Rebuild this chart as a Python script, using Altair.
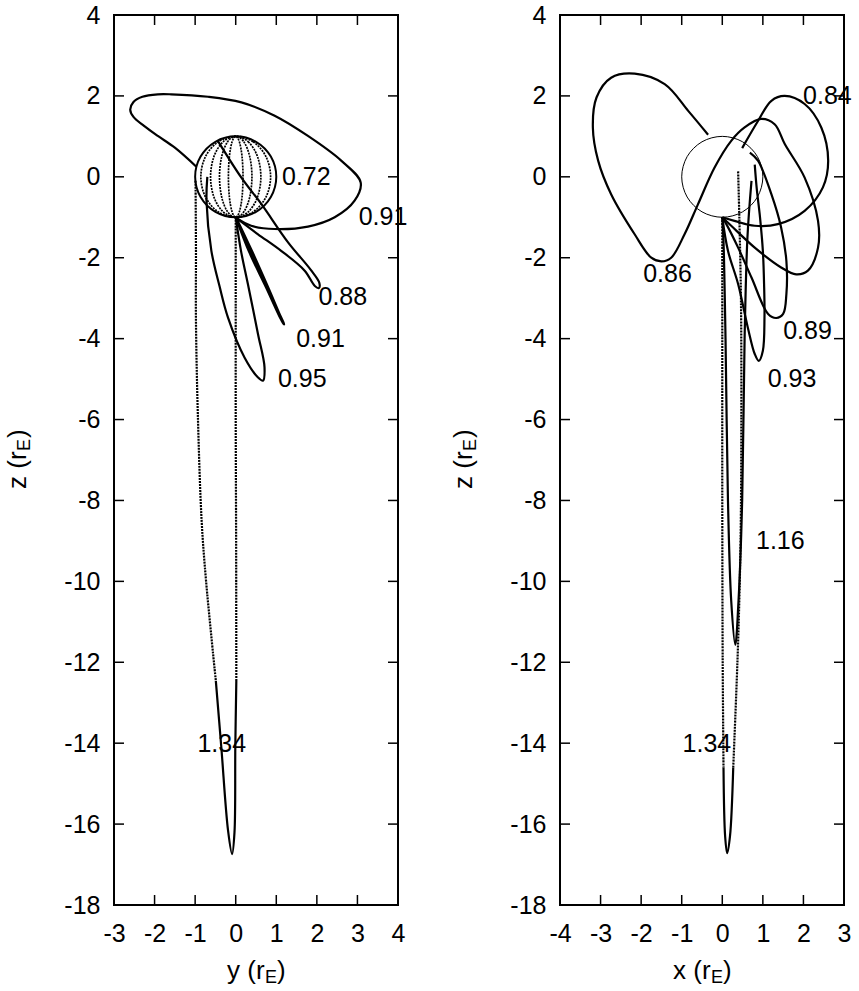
import altair as alt
import pandas as pd

FONT = "Liberation Sans"
W, H = 284, 890                      # plot area of each panel, px
Z_DOMAIN = [-18, 4]
Z_TICKS = list(range(-18, 5, 2))

# ---------------- left panel: projection on the (y, z) plane ----------------
LEFT_X_DOMAIN = [-3, 4]
LEFT_X_TICKS = list(range(-3, 5))

# Earth outline and the 0.72 traces that stay on the sphere (closed curves)
left_earth = [(0.0, 1.0), (0.5, 0.866), (0.866, 0.5), (1.0, 0.0), (0.866, -0.5), (0.5, -0.866),
              (0.0, -1.0), (-0.5, -0.866), (-0.866, -0.5), (-1.0, 0.0), (-0.866, 0.5), (-0.5, 0.866)]
meridian_a = [(0.0, 1.0), (0.43, 0.866), (0.745, 0.5), (0.86, 0.0), (0.745, -0.5), (0.43, -0.866),
              (0.0, -1.0), (-0.43, -0.866), (-0.745, -0.5), (-0.86, 0.0), (-0.745, 0.5), (-0.43, 0.866)]
meridian_b = [(0.0, 1.0), (0.31, 0.866), (0.537, 0.5), (0.62, 0.0), (0.537, -0.5), (0.31, -0.866),
              (0.0, -1.0), (-0.31, -0.866), (-0.537, -0.5), (-0.62, 0.0), (-0.537, 0.5), (-0.31, 0.866)]
meridian_c = [(0.0, 1.0), (0.20, 0.866), (0.346, 0.5), (0.40, 0.0), (0.346, -0.5), (0.20, -0.866),
              (0.0, -1.0), (-0.20, -0.866), (-0.346, -0.5), (-0.40, 0.0), (-0.346, 0.5), (-0.20, 0.866)]
meridian_d = [(0.0, 1.0), (0.09, 0.866), (0.156, 0.5), (0.18, 0.0), (0.156, -0.5), (0.09, -0.866),
              (0.0, -1.0), (-0.09, -0.866), (-0.156, -0.5), (-0.18, 0.0), (-0.156, 0.5), (-0.09, 0.866)]

# open trajectories (y, z)
left_091_wide = [(0.0, -1.0), (0.06, -1.05), (0.38, -1.21), (0.96, -1.29), (1.78, -1.23), (2.44, -1.0),
                 (2.93, -0.59), (3.08, -0.14), (2.60, 0.40), (1.78, 1.01), (0.96, 1.51), (0.14, 1.84),
                 (-0.68, 1.98), (-1.59, 2.04), (-1.92, 2.04), (-2.30, 1.98), (-2.52, 1.85),
                 (-2.60, 1.66), (-2.52, 1.48), (-2.26, 1.26), (-1.92, 1.01), (-1.50, 0.72),
                 (-0.97, 0.25)]
left_088 = [(-0.44, 0.89), (0.14, -0.02), (0.63, -0.67), (1.29, -1.62), (1.85, -2.30), (2.06, -2.62),
            (2.05, -2.75), (1.95, -2.70), (1.70, -2.32), (1.12, -1.83), (0.55, -1.42), (0.15, -1.12),
            (0.0, -1.0)]
left_091_narrow = [(0.0, -1.0), (0.40, -1.85), (0.80, -2.75), (1.10, -3.45), (1.19, -3.64), (1.12, -3.52),
                   (0.75, -2.72), (0.34, -1.86), (0.03, -1.06)]
left_095 = [(-0.70, 0.0), (-0.72, -0.6), (-0.60, -1.83), (-0.40, -2.70), (-0.19, -3.48), (0.22, -4.47),
            (0.55, -4.96), (0.67, -5.04), (0.71, -4.71), (0.55, -3.89), (0.30, -2.65), (0.13, -1.83),
            (0.0, -1.0)]
left_134_down = [(-0.99, -0.1), (-0.98, -1.8), (-0.98, -3.56), (-0.93, -6.0), (-0.84, -8.5),
                 (-0.73, -10.0), (-0.49, -12.46)]
left_134_tip = [(-0.49, -12.46), (-0.355, -14.1), (-0.19, -16.15), (-0.09, -16.74), (-0.03, -16.2),
                (-0.01, -14.1), (0.015, -12.46)]
left_134_up = [(0.015, -12.46), (0.01, -9.0), (0.0, -6.0), (0.0, -3.0), (0.0, -1.0)]

left_label_text = ["0.72", "0.91", "0.88", "0.91", "0.95", "1.34"]
left_label_y = [1.74, 3.63, 2.64, 2.09, 1.64, -0.345]
left_label_z = [0.0, -1.0, -2.98, -4.01, -5.0, -14.02]

# ---------------- right panel: projection on the (x, z) plane ----------------
RIGHT_X_DOMAIN = [-4, 3]
RIGHT_X_TICKS = list(range(-4, 4))

right_earth = [(0.0, 1.0), (0.5, 0.866), (0.866, 0.5), (1.0, 0.0), (0.866, -0.5), (0.5, -0.866),
               (0.0, -1.0), (-0.5, -0.866), (-0.866, -0.5), (-1.0, 0.0), (-0.866, 0.5), (-0.5, 0.866)]

right_086 = [(-0.35, 1.04), (-0.84, 1.63), (-1.42, 2.29), (-2.16, 2.55), (-2.74, 2.45), (-3.10, 1.96),
             (-3.19, 1.22), (-3.06, 0.40), (-2.74, -0.43), (-2.16, -1.42), (-1.75, -2.0), (-1.50, -2.09),
             (-1.26, -2.0), (-0.93, -1.42), (-0.60, -0.68), (-0.19, 0.23), (0.22, 0.89), (0.55, 1.22),
             (0.96, 1.43), (1.29, 1.30), (1.54, 0.81), (2.03, -0.02), (2.36, -1.09), (2.36, -1.75),
             (2.11, -2.32), (1.82, -2.41), (1.45, -2.24), (0.80, -1.75), (0.22, -1.21), (0.0, -1.0)]
right_084 = [(0.49, 0.71), (0.88, 1.38), (1.21, 1.88), (1.54, 2.0), (2.03, 1.80), (2.44, 1.22),
             (2.61, 0.40), (2.48, -0.26), (2.03, -0.84), (1.37, -1.17), (0.80, -1.21), (0.30, -1.09),
             (0.0, -1.0)]
right_089 = [(0.68, 0.60), (0.88, 0.40), (1.21, -0.43), (1.45, -1.25), (1.58, -2.08), (1.58, -2.90),
             (1.50, -3.39), (1.33, -3.49), (1.13, -3.39), (0.72, -2.49), (0.39, -1.75), (0.10, -1.17),
             (0.0, -1.0)]
right_093 = [(0.80, 0.30), (0.85, -0.30), (0.93, -1.0), (1.0, -1.83), (1.03, -2.65), (1.04, -3.48),
             (1.0, -4.30), (0.90, -4.55), (0.80, -4.38), (0.63, -3.73), (0.39, -2.65), (0.14, -1.83),
             (0.0, -1.0)]
right_116 = [(0.72, -0.10), (0.62, -1.5), (0.55, -4.0), (0.49, -8.0), (0.40, -10.48), (0.32, -11.57),
             (0.22, -10.48), (0.14, -8.0), (0.08, -4.0), (0.03, -1.6), (0.0, -1.0)]
right_134_down = [(0.0, -1.0), (0.0, -4.0), (0.0, -8.0), (0.01, -12.0), (0.03, -14.6)]
right_134_tip = [(0.03, -14.6), (0.07, -16.3), (0.12, -16.72), (0.19, -16.3), (0.27, -14.6)]
right_134_up = [(0.27, -14.6), (0.39, -11.5), (0.45, -9.0), (0.47, -6.0), (0.46, -3.0), (0.42, -1.0),
                (0.39, 0.15)]

right_label_text = ["0.84", "0.86", "0.89", "0.93", "1.16", "1.34"]
right_label_x = [2.59, -1.35, 2.10, 1.72, 1.43, -0.38]
right_label_z = [2.0, -2.4, -3.82, -5.0, -9.0, -14.02]


def traces(named):
    rows = []
    for name, pts in named:
        for i, (h, z) in enumerate(pts):
            rows.append({"curve": name, "i": i, "h": h, "z": z})
    return pd.DataFrame(rows)


def panel(xdom, xticks, closed_styles, open_styles, labels, xletter):
    xscale = alt.Scale(domain=xdom, nice=False, zero=False)
    zscale = alt.Scale(domain=Z_DOMAIN, nice=False, zero=False)
    common = dict(title=None, grid=False, domain=False, ticks=False, tickSize=0,
                  labelFont=FONT, labelFontSize=25, labelColor="black",
                  labelOverlap=False, labelFlush=False, labelExpr="'' + datum.value")
    xaxis = alt.Axis(values=xticks, labelPadding=16, **common)
    zaxis = alt.Axis(values=Z_TICKS, labelPadding=14, **common)

    def X(f):
        return alt.X(f"{f}:Q", scale=xscale, axis=xaxis)

    def Z(f):
        return alt.Y(f"{f}:Q", scale=zscale, axis=zaxis)

    layers = []
    # closed curves: Earth outline and on-sphere traces
    for named, width, dash in closed_styles:
        mk = dict(color="black", strokeWidth=width, interpolate="cardinal-closed")
        if dash:
            mk["strokeDash"] = dash
        layers.append(alt.Chart(traces(named)).mark_line(**mk).encode(
            x=X("h"), y=Z("z"), detail="curve:N", order="i:Q"))
    # open trajectories
    for named, width, dash in open_styles:
        mk = dict(color="black", strokeWidth=width, interpolate="catmull-rom")
        if dash:
            mk["strokeDash"] = dash
        layers.append(alt.Chart(traces(named)).mark_line(**mk).encode(
            x=X("h"), y=Z("z"), detail="curve:N", order="i:Q"))

    # inward ticks on all four sides
    tl = 10
    zt = pd.DataFrame({"v": Z_TICKS})
    xt = pd.DataFrame({"v": xticks})
    rule = dict(color="black", strokeWidth=1.5)
    layers += [
        alt.Chart(zt).mark_rule(**rule).encode(y=Z("v"), x=alt.value(0), x2=alt.value(tl)),
        alt.Chart(zt).mark_rule(**rule).encode(y=Z("v"), x=alt.value(W - tl), x2=alt.value(W)),
        alt.Chart(xt).mark_rule(**rule).encode(x=X("v"), y=alt.value(H - tl), y2=alt.value(H)),
        alt.Chart(xt).mark_rule(**rule).encode(x=X("v"), y=alt.value(0), y2=alt.value(tl)),
    ]

    # curve labels
    lab = pd.DataFrame({"t": labels[0], "h": labels[1], "z": labels[2]})
    layers.append(alt.Chart(lab).mark_text(font=FONT, fontSize=25, color="black",
                                           align="center", baseline="middle").encode(
        x=X("h"), y=Z("z"), text="t:N"))

    # axis titles with subscript E
    def piece(text, px, py, size, angle=0):
        mk = dict(font=FONT, fontSize=size, color="black", align="left", baseline="middle")
        if angle:
            mk["angle"] = angle
        return alt.Chart(pd.DataFrame({"t": [text]})).mark_text(**mk).encode(
            x=alt.value(px), y=alt.value(py), text="t:N")

    layers += [
        piece(f"{xletter} (r", 113, 956, 26),
        piece("E", 151, 963, 18),
        piece(")", 163, 956, 26),
        piece("z (r", -96, 474, 26, 270),
        piece("E", -89, 436, 18, 270),
        piece(")", -96, 423, 26, 270),
    ]
    return alt.layer(*layers).properties(width=W, height=H)


DOTS = [2.0, 1.0]

left = panel(
    LEFT_X_DOMAIN, LEFT_X_TICKS,
    closed_styles=[
        ([("earth", left_earth)], 2.0, None),
        ([("m1", meridian_a), ("m2", meridian_b), ("m3", meridian_c), ("m4", meridian_d)], 1.7, DOTS),
    ],
    open_styles=[
        ([("w091", left_091_wide), ("t088", left_088), ("t095", left_095), ("t134tip", left_134_tip)], 2.2, None),
        ([("n091", left_091_narrow)], 2.8, None),
        ([("t134a", left_134_down), ("t134b", left_134_up)], 2.2, DOTS),
    ],
    labels=(left_label_text, left_label_y, left_label_z),
    xletter="y",
)

right = panel(
    RIGHT_X_DOMAIN, RIGHT_X_TICKS,
    closed_styles=[
        ([("earth", right_earth)], 1.0, None),
    ],
    open_styles=[
        ([("t086", right_086), ("t084", right_084), ("t089", right_089), ("t093", right_093),
          ("t116", right_116), ("t134tip", right_134_tip)], 2.2, None),
        ([("t134a", right_134_down), ("t134b", right_134_up)], 2.2, DOTS),
    ],
    labels=(right_label_text, right_label_x, right_label_z),
    xletter="x",
)

chart = alt.hconcat(left, right, spacing=162, bounds="flush").configure_view(
    stroke="black", strokeWidth=2
).properties(
    padding={"left": 4, "top": 2, "right": 0, "bottom": 0},
    background="white",
)

chart.save("out.html", embed_options={"renderer": "svg", "actions": False})
